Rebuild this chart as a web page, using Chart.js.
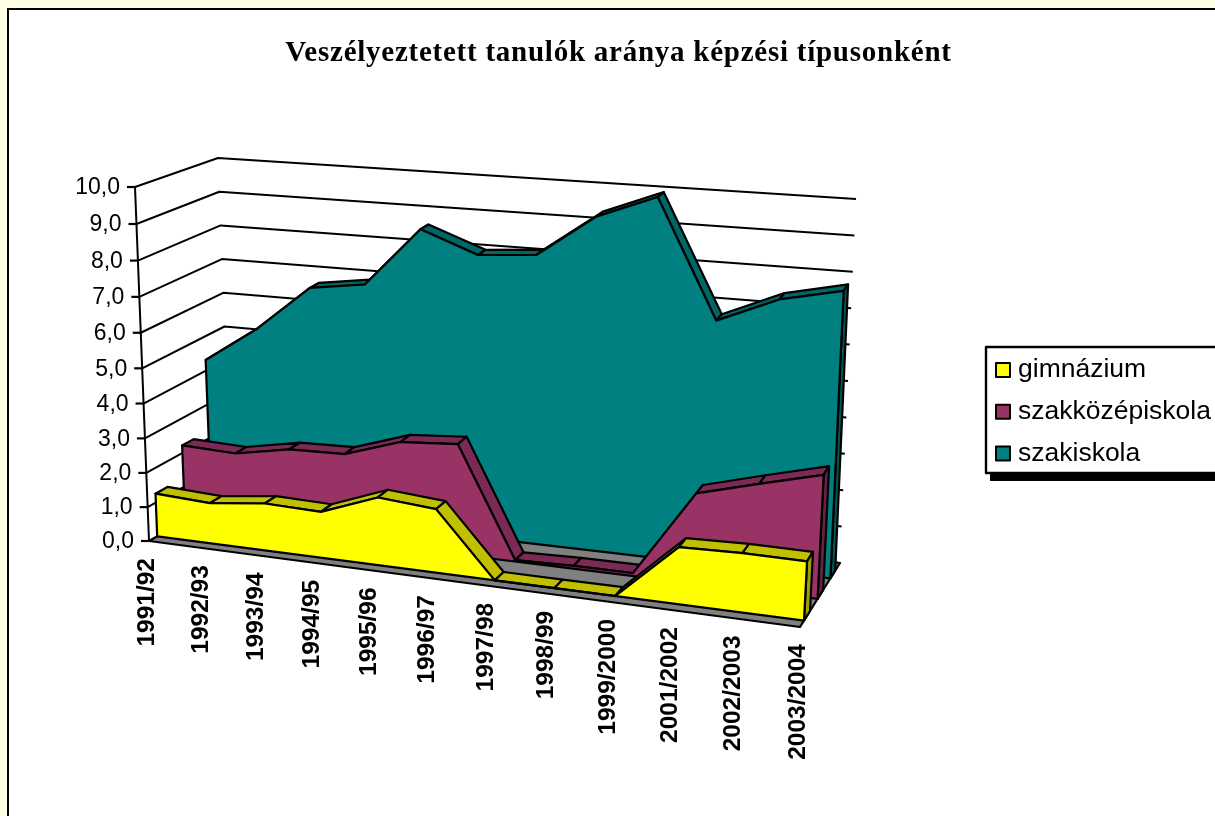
<!DOCTYPE html>
<html lang="hu">
<head>
<meta charset="utf-8">
<title>Veszélyeztetett tanulók aránya</title>
<style>
  html, body { margin: 0; height: 100%; overflow: hidden; background: #ffffe5; }
  #frame { position: absolute; left: 7px; top: 8px; width: 1300px; height: 900px; background: #fff; border: 2px solid #000; }
  #chart { position: absolute; left: 0; top: 0; }
</style>
<script src="https://cdn.jsdelivr.net/npm/chart.js@4"></script>
</head>
<body>
<div id="frame"></div>
<canvas id="chart" width="1215" height="816"></canvas>
<script>
const TITLE = "Veszélyeztetett tanulók aránya képzési típusonként";
const CATEGORIES = ["1991/92", "1992/93", "1993/94", "1994/95", "1995/96", "1996/97",
  "1997/98", "1998/99", "1999/2000", "2001/2002", "2002/2003", "2003/2004"];
const GIMNAZIUM = [1.26, 1.18, 1.37, 1.33, 1.94, 1.81, 0, 0, 0, 1.58, 1.63, 1.62];
const SZAKKOZEP = [2.22, 2.16, 2.46, 2.5, 3.02, 3.14, 0.04, 0.08, 0.08, 2.5, 2.95, 3.38];
const SZAKISKOLA = [4.31, 5.37, 6.69, 6.92, 8.62, 8.02, 8.15, 9.34, 10.0, 6.74, 7.46, 7.83];

// corners of the 3D box on screen
const BOX = {
  frontBottomLeft: [149, 541], frontTopLeft: [135, 187],
  backBottomLeft: [231, 495], backTopLeft: [218, 158],
  frontBottomRight: [800, 627], frontTopRight: [820, 246],
  backBottomRight: [840, 563], backTopRight: [856, 199],
};
const PERSPECTIVE_X = 1.1;
const PERSPECTIVE_Y = 1.05;
// depth slab of each series, same order as the datasets, and its shaded faces
const SLABS = [
  { front: 0.1, back: 0.25, top: "#c0c000", side: "#a0a000" },
  { front: 0.44, back: 0.58, top: "#7a2a55", side: "#662244" },
  { front: 0.76, back: 0.88, top: "#006666", side: "#005555" },
];

function lerp(a, b, t) {
  return [a[0] + (b[0] - a[0]) * t, a[1] + (b[1] - a[1]) * t];
}

function warp(t, k) {
  return t / (t + k * (1 - t));
}

// u along the categories, v along the values, d into the depth, all 0..1
function project(u, v, d) {
  const uw = warp(u, PERSPECTIVE_X);
  // the value spacing only stretches on the front edge, the back wall is even
  const vw = warp(v, PERSPECTIVE_Y) * (1 - d) + v * d;
  const frontBottom = lerp(BOX.frontBottomLeft, BOX.frontBottomRight, uw);
  const frontTop = lerp(BOX.frontTopLeft, BOX.frontTopRight, uw);
  const backBottom = lerp(BOX.backBottomLeft, BOX.backBottomRight, uw);
  const backTop = lerp(BOX.backTopLeft, BOX.backTopRight, uw);
  return lerp(lerp(frontBottom, frontTop, vw), lerp(backBottom, backTop, vw), d);
}

function polygon(ctx, points, fill) {
  ctx.beginPath();
  points.forEach((p, i) => (i ? ctx.lineTo(p[0], p[1]) : ctx.moveTo(p[0], p[1])));
  ctx.closePath();
  if (fill) {
    ctx.fillStyle = fill;
    ctx.fill();
  }
  ctx.stroke();
}

function polyline(ctx, points) {
  ctx.beginPath();
  points.forEach((p, i) => (i ? ctx.lineTo(p[0], p[1]) : ctx.moveTo(p[0], p[1])));
  ctx.stroke();
}

const area3d = {
  id: "area3d",
  beforeDraw(chart) {
    chart.ctx.letterSpacing = "0.75px";
  },
  afterDatasetsDraw(chart) {
    const ctx = chart.ctx;
    const xScale = chart.scales.x;
    const yScale = chart.scales.y;
    const toV = (pixel) => (yScale.bottom - pixel) / (yScale.bottom - yScale.top);
    const toU = (pixel) => (pixel - xScale.left) / (xScale.right - xScale.left);

    ctx.save();
    ctx.letterSpacing = "0px";
    ctx.strokeStyle = "#000";
    ctx.lineJoin = "round";

    // walls
    ctx.lineWidth = 2;
    yScale.ticks.forEach((tick) => {
      const v = toV(yScale.getPixelForValue(tick.value));
      polyline(ctx, [project(0, v, 0), project(0, v, 1), project(1, v, 1)]);
    });
    polyline(ctx, [project(0, 0, 0), project(0, 1, 0)]);

    // floor
    ctx.lineWidth = 2.2;
    polygon(ctx, [project(0, 0, 0), project(1, 0, 0), project(1, 0, 1), project(0, 0, 1)], "#808080");

    // series, back to front
    for (let s = chart.data.datasets.length - 1; s >= 0; s--) {
      const slab = SLABS[s];
      const points = chart.getDatasetMeta(s).data.map((el) => ({ u: toU(el.x), v: toV(el.y) }));
      for (let i = 0; i < points.length - 1; i++) {
        const a = points[i];
        const b = points[i + 1];
        polygon(ctx, [project(a.u, a.v, slab.front), project(b.u, b.v, slab.front),
          project(b.u, b.v, slab.back), project(a.u, a.v, slab.back)], slab.top);
      }
      const last = points[points.length - 1];
      polygon(ctx, [project(1, last.v, slab.front), project(1, last.v, slab.back),
        project(1, 0, slab.back), project(1, 0, slab.front)], slab.side);
      polygon(ctx, [project(0, 0, slab.front),
        ...points.map((p) => project(p.u, p.v, slab.front)),
        project(1, 0, slab.front)], chart.data.datasets[s].backgroundColor);
    }

    // value axis ticks and labels
    ctx.fillStyle = "#000";
    ctx.font = '23px "Liberation Sans"';
    ctx.textAlign = "right";
    ctx.textBaseline = "middle";
    yScale.ticks.forEach((tick) => {
      const p = project(0, toV(yScale.getPixelForValue(tick.value)), 0);
      polyline(ctx, [[p[0] - 8, p[1]], p]);
      ctx.fillText(tick.label, p[0] - 15, p[1] + 1);
    });

    // category labels under the front edge of the floor
    ctx.font = 'bold 24.5px "Liberation Sans"';
    chart.data.labels.forEach((label, i) => {
      const p = project(toU(xScale.getPixelForValue(i)), 0, 0);
      ctx.save();
      ctx.translate(p[0] - 2, p[1] + 17);
      ctx.rotate(-Math.PI / 2);
      ctx.fillText(label, 0, 0);
      ctx.restore();
    });

    // legend
    ctx.fillStyle = "#000";
    ctx.fillRect(990, 352, 240, 129);
    ctx.fillStyle = "#fff";
    ctx.fillRect(986, 347, 240, 126);
    ctx.lineWidth = 2.4;
    ctx.strokeRect(986, 347, 240, 126);
    ctx.lineWidth = 2;
    ctx.font = '26.5px "Liberation Sans"';
    ctx.textAlign = "left";
    chart.data.datasets.forEach((dataset, i) => {
      const y = 370 + i * 41.8;
      ctx.fillStyle = dataset.backgroundColor;
      ctx.fillRect(996, y - 7, 14, 14);
      ctx.strokeRect(996, y - 7, 14, 14);
      ctx.fillStyle = "#000";
      ctx.fillText(dataset.label, 1018, y);
    });
    ctx.restore();
  },
};

function seriesDataset(label, data, color) {
  return { label, data, backgroundColor: color, borderColor: "#000", borderWidth: 2, showLine: false, pointRadius: 0 };
}

new Chart(document.getElementById("chart"), {
  type: "line",
  data: {
    labels: CATEGORIES,
    datasets: [
      seriesDataset("gimnázium", GIMNAZIUM, "#ffff00"),
      seriesDataset("szakközépiskola", SZAKKOZEP, "#993366"),
      seriesDataset("szakiskola", SZAKISKOLA, "#008080"),
    ],
  },
  options: {
    responsive: false,
    animation: false,
    layout: { padding: { left: 149, right: 127, top: 30, bottom: 275 } },
    plugins: {
      legend: { display: false },
      tooltip: { enabled: false },
      title: {
        display: true,
        text: TITLE,
        color: "#000",
        font: { family: '"Liberation Serif"', size: 29, weight: "bold" },
        padding: { top: 6, bottom: 0 },
      },
    },
    scales: {
      x: { display: false },
      y: {
        display: false,
        min: 0,
        max: 10,
        ticks: { stepSize: 1, callback: (value) => value.toFixed(1).replace(".", ",") },
      },
    },
  },
  plugins: [area3d],
});
</script>
</body>
</html>
